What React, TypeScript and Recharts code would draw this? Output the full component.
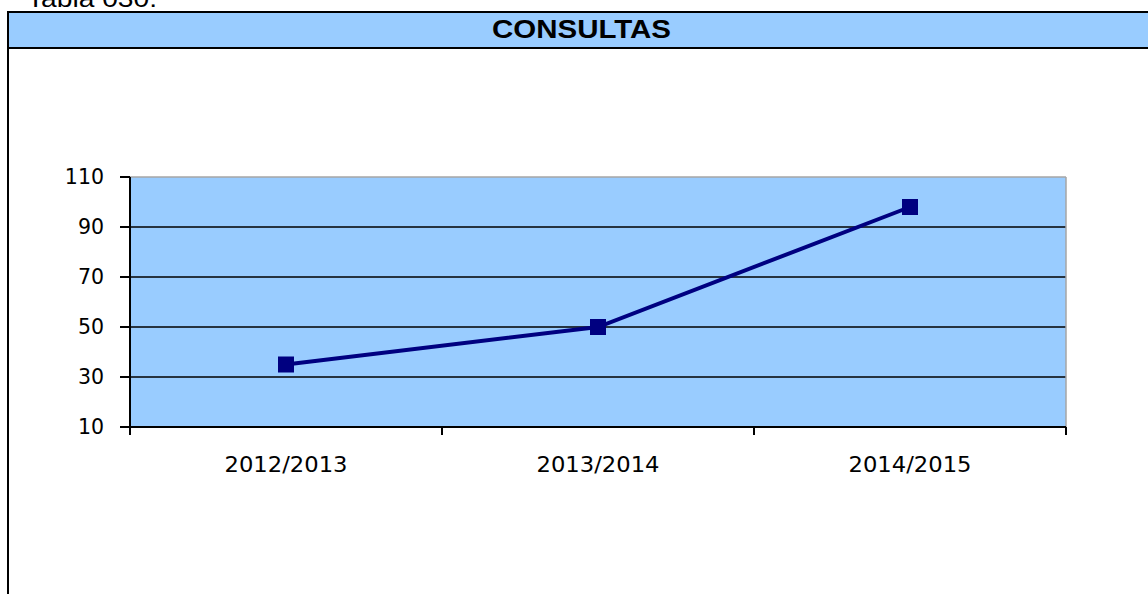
import React from 'react';
import { LineChart, Line, XAxis, YAxis, CartesianGrid } from 'recharts';

const categories = ['2012/2013', '2013/2014', '2014/2015'];
const consultas = [35, 50, 98];
const yTicks = [10, 30, 50, 70, 90, 110];
const innerGridValues = [30, 50, 70, 90];
const topGridValues = [110];
const titleText = 'CONSULTAS';
const captionText = 'Tabla 030.';

const data = categories.map((c, i) => ({ periodo: c, consultas: consultas[i] }));

const NAVY = '#000080';
const BLUE = '#99CCFF';

const XTick = (props: any) => {
  const { x, y, payload, index, visibleTicksCount, width } = props;
  const n = visibleTicksCount || categories.length;
  const half = payload && payload.offset ? payload.offset : width / n / 2;
  return (
    <g>
      <line x1={x - half} x2={x - half} y1={y} y2={y + 8} stroke="#000" strokeWidth={2} />
      {index === n - 1 && (
        <line x1={x + half} x2={x + half} y1={y} y2={y + 8} stroke="#000" strokeWidth={2} />
      )}
      <text
        x={x}
        y={y + 44.7}
        textAnchor="middle"
        fontFamily="'DejaVu Sans', Verdana, sans-serif"
        fontSize={20.5}
        textLength={123}
        lengthAdjust="spacingAndGlyphs"
        fill="#000"
      >
        {payload.value}
      </text>
    </g>
  );
};

const YTick = (props: any) => {
  const { x, y, payload } = props;
  return (
    <text
      x={x}
      y={y}
      dy={7.3}
      textAnchor="end"
      fontFamily="'DejaVu Sans', Verdana, sans-serif"
      fontSize={20.5}
      fill="#000"
    >
      {payload.value}
    </text>
  );
};

const SquareDot = (props: any) => {
  const { cx, cy } = props;
  if (cx == null || cy == null) return null;
  return <rect x={cx - 8} y={cy - 8} width={16} height={16} fill={NAVY} />;
};

export default function App() {
  return (
    <div
      style={{
        position: 'fixed',
        left: 0,
        top: 0,
        width: 1148,
        height: 594,
        overflow: 'hidden',
        background: '#fff',
      }}
    >
      <svg
        width={1148}
        height={594}
        style={{ position: 'absolute', left: 0, top: 0 }}
      >
        <text
          x={27}
          y={6.7}
          fontFamily="'Liberation Sans', Arial, sans-serif"
          fontSize={24}
          textLength={130}
          lengthAdjust="spacingAndGlyphs"
          fill="#000"
        >
          {captionText}
        </text>
        <rect x={8} y={12} width={1150} height={36} fill={BLUE} />
        <line x1={7} x2={1148} y1={12} y2={12} stroke="#000" strokeWidth={2} />
        <line x1={7} x2={1148} y1={48} y2={48} stroke="#000" strokeWidth={2} />
        <line x1={8} x2={8} y1={11} y2={594} stroke="#000" strokeWidth={2} />
        <text
          x={581.5}
          y={38.3}
          textAnchor="middle"
          fontFamily="'Liberation Sans', Arial, sans-serif"
          fontWeight="bold"
          fontSize={25}
          textLength={179}
          lengthAdjust="spacingAndGlyphs"
          fill="#000"
        >
          {titleText}
        </text>
      </svg>
      <div style={{ position: 'absolute', left: 0, top: 0 }}>
        <LineChart
          width={1148}
          height={594}
          data={data}
          margin={{ top: 177, left: 60, right: 82, bottom: 107 }}
        >
          <CartesianGrid
            fill={BLUE}
            fillOpacity={1}
            vertical={false}
            horizontalValues={innerGridValues}
            stroke="#000"
            strokeWidth={1.5}
          />
          <CartesianGrid
            horizontalValues={topGridValues}
            verticalCoordinatesGenerator={({ offset }: any) => [offset.left + offset.width]}
            stroke="#A6A6A6"
            strokeWidth={1.5}
          />
          <XAxis
            dataKey="periodo"
            type="category"
            scale="band"
            interval={0}
            height={60}
            tickSize={0}
            tickMargin={0}
            tickLine={false}
            axisLine={{ stroke: '#000', strokeWidth: 2 }}
            tick={<XTick />}
          />
          <YAxis
            type="number"
            domain={[10, 110]}
            ticks={yTicks}
            interval={0}
            width={70}
            tickSize={10}
            tickMargin={16}
            tickLine={{ stroke: '#000', strokeWidth: 2 }}
            axisLine={{ stroke: '#000', strokeWidth: 2 }}
            tick={<YTick />}
          />
          <Line
            type="linear"
            dataKey="consultas"
            stroke={NAVY}
            strokeWidth={4}
            dot={<SquareDot />}
            activeDot={false}
            isAnimationActive={false}
          />
        </LineChart>
      </div>
    </div>
  );
}
